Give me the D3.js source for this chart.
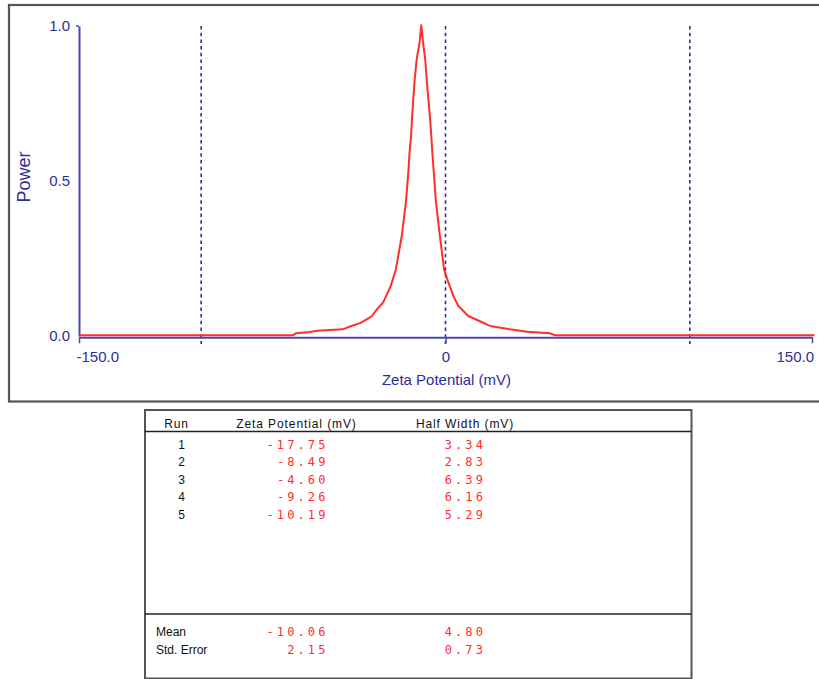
<!DOCTYPE html>
<html><head><meta charset="utf-8">
<script src="https://cdn.jsdelivr.net/npm/d3@7"></script>
<style>
html,body{margin:0;padding:0;background:#fff;}
svg{display:block;}
</style></head>
<body>
<svg id="c" width="819" height="679"></svg>
<script>
// ---- data ----
const zeta  = [-150, -62.4, -61.2, -55.5, -52.6, -42.0, -39.1, -35.0, -32.1, -30.1, -28.0, -25.5, -22.4, -20.3, -17.9, -16.2, -15.2, -14.7, -14.1, -13.7, -13.2, -12.6, -11.8, -10.6, -9.9, -9.2, -8.3, -7.7, -7.0, -6.3, -5.8, -5.4, -4.8, -3.9, -2.3, -0.6, 0.7, 3.2, 5.2, 9.3, 14.1, 18.2, 26.4, 33.4, 42.8, 44.8, 151];
const power = [0, 0, 0.006, 0.010, 0.014, 0.019, 0.028, 0.039, 0.052, 0.062, 0.084, 0.106, 0.159, 0.213, 0.320, 0.429, 0.526, 0.590, 0.643, 0.697, 0.761, 0.826, 0.890, 0.945, 1.0, 0.945, 0.890, 0.826, 0.761, 0.697, 0.642, 0.590, 0.526, 0.429, 0.320, 0.213, 0.181, 0.127, 0.095, 0.062, 0.045, 0.030, 0.019, 0.011, 0.006, 0, 0];
const yTickValues = [0, 0.5, 1];
const yTickLabels = ["0.0", "0.5", "1.0"];
const xTickValues = [-150, 0, 150];
const xTickLabels = ["-150.0", "0", "150.0"];
const refLines = [-100, 0, 100];
const xTitle = "Zeta Potential (mV)";
const yTitle = "Power";

const tableHeaders = ["Run", "Zeta Potential (mV)", "Half Width (mV)"];
const runs = ["1", "2", "3", "4", "5"];
const runZeta = ["-17.75", "-8.49", "-4.60", "-9.26", "-10.19"];
const runHalf = ["3.34", "2.83", "6.39", "6.16", "5.29"];
const summaryLabels = ["Mean", "Std. Error"];
const summaryZeta = ["-10.06", "2.15"];
const summaryHalf = ["4.80", "0.73"];

// ---- styles ----
const BLUE_TXT = "#2e2e98", BLUE_AX = "#4848b4", BLUE_DASH = "#30309a", RED = "#ff2e2e";
const svg = d3.select("#c");

// outer chart frame
svg.append("rect").attr("x", 9).attr("y", 5).attr("width", 830).attr("height", 396.5)
  .attr("fill", "#fff").attr("stroke", "#555").attr("stroke-width", 2.2);

const x = d3.scaleLinear().domain([-150, 150]).range([79, 812]);
const y = d3.scaleLinear().domain([0, 1]).range([336, 26]);

// reference dashed lines
svg.append("g").selectAll("line").data(refLines).join("line")
  .attr("x1", d => x(d)).attr("x2", d => x(d))
  .attr("y1", y(1)).attr("y2", y(0) + 8)
  .attr("stroke", BLUE_DASH).attr("stroke-width", 1.6).attr("stroke-dasharray", "3.5,3.2");

// y axis
const yAxis = d3.axisLeft(y).tickValues(yTickValues).tickSize(0).tickSizeOuter(0).tickPadding(9)
  .tickFormat((d, i) => yTickLabels[i]);
const gy = svg.append("g").attr("transform", `translate(${x(-150)},0)`).call(yAxis);
gy.select(".domain").attr("stroke", BLUE_AX).attr("stroke-width", 2);
gy.selectAll("text").attr("fill", BLUE_TXT).style("font", "15px Arial, 'Liberation Sans', sans-serif");
svg.append("line").attr("x1", x(-150) - 3).attr("x2", x(-150)).attr("y1", y(1)).attr("y2", y(1))
  .attr("stroke", BLUE_AX).attr("stroke-width", 1.5);

// x axis
const xAxis = d3.axisBottom(x).tickValues(xTickValues).tickSize(6).tickSizeOuter(0).tickPadding(8)
  .tickFormat((d, i) => xTickLabels[i]);
const gx = svg.append("g").attr("transform", `translate(0,${y(0) + 1.3})`).call(xAxis);
gx.select(".domain").attr("stroke", BLUE_AX).attr("stroke-width", 2);
gx.selectAll(".tick line").attr("stroke", BLUE_AX).attr("stroke-width", 1.5);
gx.selectAll("text").attr("fill", BLUE_TXT).style("font", "15px Arial, 'Liberation Sans', sans-serif")
  .attr("text-anchor", (d, i) => i === 0 ? "start" : (i === xTickValues.length - 1 ? "end" : "middle"))
  .attr("dx", (d, i) => i === 0 ? -3 : (i === xTickValues.length - 1 ? 1.5 : 0));

// axis titles
svg.append("text").attr("x", x(0) + 1).attr("y", 385).attr("text-anchor", "middle")
  .attr("fill", BLUE_TXT).style("font", "15px Arial, 'Liberation Sans', sans-serif").text(xTitle);
svg.append("text").attr("transform", "translate(30,177) rotate(-90)").attr("text-anchor", "middle")
  .attr("fill", BLUE_TXT).style("font", "18px Arial, 'Liberation Sans', sans-serif").text(yTitle);

// data line
const line = d3.line().x((d, i) => x(zeta[i])).y((d, i) => y(power[i]) - 0.8);
svg.append("path").datum(power).attr("d", line).attr("fill", "none")
  .attr("stroke", RED).attr("stroke-width", 2).attr("stroke-linejoin", "round");

// ---- table ----
const T = {l: 145, r: 691.5, t: 410, hdr: 431.5, sep: 614, b: 678.5};
const tg = svg.append("g");
tg.append("rect").attr("x", T.l).attr("y", T.t).attr("width", T.r - T.l).attr("height", T.b - T.t)
  .attr("fill", "#fff").attr("stroke", "#555").attr("stroke-width", 2);
tg.append("line").attr("x1", T.l).attr("x2", T.r).attr("y1", T.hdr).attr("y2", T.hdr)
  .attr("stroke", "#222").attr("stroke-width", 1.4);
tg.append("line").attr("x1", T.l).attr("x2", T.r).attr("y1", T.sep).attr("y2", T.sep)
  .attr("stroke", "#222").attr("stroke-width", 1.4);

const hdrFont = "12px Arial, 'Liberation Sans', sans-serif";
const hdrX = [176.5, 296.5, 465];
tg.selectAll("text.h").data(tableHeaders).join("text").attr("class", "h")
  .attr("x", (d, i) => hdrX[i]).attr("y", 427.5).attr("text-anchor", "middle")
  .attr("fill", "#111").style("font", hdrFont).style("letter-spacing", "0.9px").text(d => d);

const rowY = d3.scaleLinear().domain([0, 4]).range([448.5, 519]);
const valFont = "12px 'DejaVu Sans Mono', 'Liberation Mono', monospace";
const valCols = [{x: 328.5, data: runZeta}, {x: 486, data: runHalf}];
tg.selectAll("text.run").data(runs).join("text").attr("class", "run")
  .attr("x", 181.5).attr("y", (d, i) => rowY(i)).attr("text-anchor", "middle")
  .attr("fill", "#111").style("font", hdrFont).text(d => d);
valCols.forEach(col => {
  tg.append("g").selectAll("text").data(col.data).join("text")
    .attr("x", col.x).attr("y", (d, i) => rowY(i)).attr("text-anchor", "end")
    .attr("fill", RED).style("font", valFont).style("letter-spacing", "3.1px").text(d => d);
});

const sumY = [635.5, 654];
tg.selectAll("text.sl").data(summaryLabels).join("text").attr("class", "sl")
  .attr("x", 156).attr("y", (d, i) => sumY[i]).attr("fill", "#111").style("font", hdrFont).text(d => d);
[{x: 328.5, data: summaryZeta}, {x: 486, data: summaryHalf}].forEach(col => {
  tg.append("g").selectAll("text").data(col.data).join("text")
    .attr("x", col.x).attr("y", (d, i) => sumY[i]).attr("text-anchor", "end")
    .attr("fill", RED).style("font", valFont).style("letter-spacing", "3.1px").text(d => d);
});
</script>
</body></html>
